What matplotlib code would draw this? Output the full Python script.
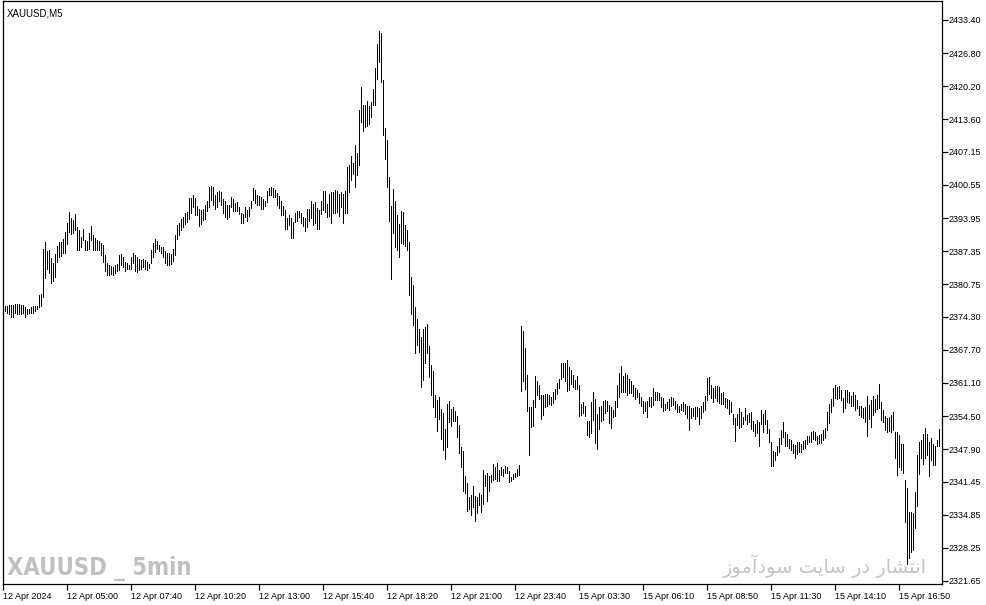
import matplotlib
matplotlib.use('Agg')
import matplotlib.pyplot as plt

# XAUUSD M5 bars, 12 Apr 2024 -> 15 Apr 2024 (high / low of each bar)
bar_high = [
    2376.4, 2376.4, 2376.4, 2376.6, 2376.6, 2376.6, 2376.8, 2376.8, 2376.8, 2376.6,
    2376.6, 2376.2, 2375.8, 2375.8, 2376.2, 2376.4, 2376.4, 2376.4, 2378.6, 2378.8,
    2387.8, 2389.2, 2387.4, 2387.6, 2386.0, 2385.0, 2386.8, 2388.4, 2389.2, 2389.2,
    2389.8, 2391.2, 2393.0, 2395.2, 2394.0, 2393.6, 2394.8, 2392.2, 2391.6, 2390.2,
    2391.8, 2389.6, 2389.4, 2391.0, 2392.4, 2390.6, 2390.0, 2389.6, 2389.4, 2389.0,
    2388.6, 2386.6, 2385.0, 2384.6, 2384.4, 2384.2, 2384.6, 2384.8, 2386.6, 2386.8,
    2386.2, 2385.2, 2385.0, 2384.6, 2386.2, 2387.0, 2386.6, 2386.2, 2385.8, 2385.6,
    2385.8, 2385.6, 2385.2, 2384.8, 2387.6, 2389.0, 2389.8, 2389.4, 2388.6, 2388.2,
    2388.2, 2387.4, 2387.0, 2387.0, 2386.8, 2387.8, 2390.6, 2392.6, 2393.0, 2393.8,
    2394.2, 2395.0, 2395.2, 2398.0, 2398.0, 2398.6, 2398.0, 2396.4, 2395.8, 2395.6,
    2395.8, 2396.6, 2397.4, 2400.2, 2400.4, 2400.2, 2398.6, 2399.2, 2399.4, 2399.2,
    2397.8, 2397.4, 2396.6, 2396.6, 2398.2, 2397.8, 2397.0, 2397.2, 2396.2, 2395.0,
    2394.8, 2396.2, 2395.6, 2396.2, 2397.4, 2400.0, 2399.6, 2398.6, 2398.4, 2398.2,
    2397.8, 2397.4, 2399.4, 2400.0, 2400.2, 2400.0, 2399.6, 2399.0, 2398.4, 2397.4,
    2396.4, 2395.6, 2394.0, 2394.6, 2394.0, 2393.2, 2395.0, 2395.4, 2395.4, 2395.0,
    2394.2, 2394.0, 2395.8, 2395.8, 2397.4, 2396.8, 2397.2, 2396.0, 2395.6, 2397.4,
    2399.4, 2399.4, 2396.8, 2398.8, 2399.2, 2399.2, 2399.6, 2399.4, 2398.8, 2399.2,
    2398.8, 2399.4, 2404.2, 2404.6, 2406.4, 2405.0, 2408.4, 2407.0, 2415.5, 2420.1,
    2416.5, 2416.5, 2417.3, 2416.3, 2417.1, 2419.7, 2423.9, 2428.7, 2431.3, 2430.9,
    2421.5, 2411.9, 2409.5, 2402.2, 2396.4, 2399.8, 2397.4, 2394.6, 2392.8, 2395.4,
    2395.2, 2392.6, 2391.6, 2389.2, 2382.2, 2380.6, 2376.2, 2373.8, 2371.8, 2370.2,
    2371.8, 2372.2, 2372.8, 2368.5, 2364.7, 2363.5, 2358.7, 2357.7, 2358.3, 2355.9,
    2355.1, 2351.9, 2356.9, 2357.5, 2355.9, 2356.3, 2355.5, 2354.5, 2352.7, 2348.3,
    2347.6, 2342.6, 2341.2, 2338.4, 2338.8, 2340.6, 2338.6, 2338.4, 2339.2, 2338.8,
    2343.8, 2342.8, 2343.2, 2342.6, 2342.8, 2345.0, 2344.4, 2345.2, 2343.8, 2344.4,
    2344.0, 2344.6, 2344.4, 2343.6, 2342.4, 2343.0, 2343.2, 2344.0, 2344.8, 2372.4,
    2371.4, 2368.1, 2362.7, 2356.3, 2356.3, 2357.7, 2362.5, 2361.5, 2360.7, 2358.7,
    2358.7, 2358.9, 2358.9, 2358.7, 2358.3, 2359.3, 2359.9, 2361.1, 2361.9, 2365.1,
    2365.1, 2365.1, 2365.7, 2364.3, 2363.7, 2362.7, 2361.7, 2362.5, 2360.7, 2356.9,
    2357.3, 2356.5, 2353.5, 2353.5, 2357.3, 2359.3, 2357.9, 2354.9, 2356.3, 2356.5,
    2357.5, 2357.7, 2357.5, 2356.7, 2356.3, 2355.7, 2357.5, 2360.7, 2363.1, 2364.5,
    2362.5, 2363.1, 2362.7, 2361.9, 2361.5, 2360.7, 2360.1, 2359.7, 2359.1, 2358.3,
    2357.5, 2357.3, 2357.5, 2358.3, 2358.3, 2360.1, 2359.3, 2359.3, 2359.1, 2358.3,
    2358.1, 2356.9, 2357.3, 2357.9, 2358.3, 2358.1, 2357.5, 2356.9, 2356.5, 2356.9,
    2357.3, 2356.9, 2356.5, 2356.5, 2356.1, 2356.1, 2356.3, 2356.3, 2356.1, 2356.5,
    2357.3, 2358.5, 2362.1, 2362.3, 2360.7, 2360.1, 2360.5, 2360.5, 2360.3, 2359.1,
    2359.3, 2358.1, 2357.9, 2357.7, 2357.3, 2354.9, 2354.1, 2354.9, 2356.1, 2355.3,
    2354.3, 2356.1, 2354.7, 2355.1, 2355.3, 2353.5, 2352.9, 2353.7, 2353.3, 2355.7,
    2354.9, 2355.7, 2353.7, 2351.9, 2349.3, 2347.6, 2347.4, 2348.5, 2350.1, 2351.7,
    2353.3, 2351.3, 2350.9, 2349.9, 2349.7, 2348.9, 2348.7, 2349.3, 2349.3, 2348.9,
    2349.5, 2349.7, 2350.5, 2350.5, 2351.3, 2351.5, 2351.3, 2350.5, 2350.7, 2350.9,
    2351.7, 2352.1, 2355.3, 2356.9, 2357.9, 2360.1, 2360.7, 2360.3, 2360.5, 2359.7,
    2358.1, 2359.7, 2359.7, 2359.3, 2358.5, 2359.3, 2358.7, 2357.7, 2356.5, 2356.5,
    2356.1, 2356.3, 2358.5, 2356.7, 2357.7, 2358.5, 2357.9, 2358.7, 2360.9, 2357.3,
    2355.7, 2354.5, 2354.1, 2354.3, 2354.7, 2355.3, 2351.3, 2351.3, 2350.7, 2348.9,
    2348.9, 2341.8, 2340.2, 2335.4, 2335.4, 2335.2, 2339.4, 2346.8, 2349.3, 2349.7,
    2350.9, 2352.1, 2350.9, 2349.3, 2350.1, 2348.9, 2348.5, 2349.7, 2351.9,
]
bar_low = [
    2375.6, 2375.4, 2375.0, 2374.8, 2374.2, 2374.2, 2375.0, 2374.8, 2374.8, 2374.8,
    2375.0, 2374.2, 2374.8, 2375.0, 2375.0, 2375.0, 2375.4, 2375.8, 2376.2, 2376.4,
    2378.2, 2382.0, 2383.8, 2383.0, 2381.0, 2381.4, 2382.2, 2385.2, 2386.2, 2386.4,
    2387.0, 2387.0, 2388.8, 2391.2, 2390.8, 2391.0, 2391.6, 2387.6, 2387.6, 2388.2,
    2389.6, 2387.6, 2387.6, 2387.8, 2389.6, 2387.6, 2387.6, 2387.6, 2387.6, 2386.6,
    2385.2, 2383.4, 2382.6, 2382.6, 2382.8, 2382.6, 2383.0, 2383.4, 2383.6, 2384.6,
    2384.2, 2383.4, 2383.8, 2383.8, 2383.8, 2385.0, 2383.4, 2383.2, 2383.6, 2383.8,
    2384.2, 2383.8, 2383.6, 2384.0, 2385.0, 2386.2, 2387.2, 2387.8, 2387.4, 2387.0,
    2386.2, 2385.0, 2384.6, 2384.6, 2384.8, 2385.4, 2386.6, 2389.8, 2390.6, 2391.6,
    2392.2, 2392.8, 2393.2, 2393.8, 2395.0, 2396.2, 2394.6, 2394.6, 2392.4, 2392.8,
    2393.6, 2393.8, 2395.4, 2396.2, 2397.6, 2396.6, 2395.8, 2396.2, 2397.4, 2396.6,
    2395.0, 2394.2, 2393.8, 2394.2, 2396.2, 2395.4, 2395.4, 2395.4, 2394.8, 2393.0,
    2393.0, 2394.2, 2393.4, 2394.4, 2396.0, 2397.6, 2397.0, 2396.6, 2396.6, 2395.8,
    2395.8, 2396.4, 2397.2, 2398.6, 2398.6, 2398.2, 2398.2, 2396.6, 2396.0, 2394.6,
    2394.6, 2391.8, 2391.8, 2392.6, 2390.0, 2390.0, 2393.2, 2393.4, 2394.2, 2393.0,
    2392.4, 2391.4, 2392.2, 2393.4, 2394.0, 2392.6, 2393.0, 2391.8, 2391.8, 2394.8,
    2395.6, 2395.2, 2394.2, 2394.4, 2393.0, 2395.0, 2395.0, 2395.2, 2394.4, 2396.2,
    2393.0, 2395.0, 2395.0, 2399.2, 2401.6, 2402.8, 2400.2, 2402.6, 2404.6, 2413.1,
    2411.3, 2412.1, 2412.3, 2412.7, 2414.1, 2416.5, 2416.5, 2421.7, 2425.1, 2421.1,
    2410.5, 2405.8, 2400.2, 2393.4, 2381.8, 2391.0, 2388.2, 2387.6, 2386.2, 2389.0,
    2388.8, 2388.4, 2387.6, 2378.6, 2374.8, 2372.6, 2367.1, 2368.6, 2367.2, 2360.3,
    2361.7, 2365.1, 2367.1, 2362.3, 2358.7, 2356.3, 2354.3, 2351.5, 2353.9, 2349.9,
    2347.7, 2346.0, 2348.3, 2353.3, 2352.5, 2353.5, 2353.5, 2350.3, 2347.2, 2344.4,
    2339.6, 2339.2, 2335.6, 2336.0, 2334.8, 2336.4, 2333.6, 2335.2, 2336.8, 2335.4,
    2337.0, 2340.6, 2337.6, 2339.6, 2341.4, 2341.8, 2342.0, 2341.6, 2341.6, 2342.8,
    2342.6, 2343.2, 2343.2, 2341.4, 2341.6, 2342.0, 2342.4, 2342.6, 2342.8, 2359.5,
    2361.5, 2359.9, 2355.5, 2346.8, 2352.3, 2352.5, 2356.3, 2358.7, 2357.9, 2353.9,
    2354.7, 2356.3, 2356.5, 2356.9, 2356.7, 2357.1, 2357.9, 2358.9, 2360.1, 2361.9,
    2362.3, 2361.5, 2359.5, 2359.7, 2360.9, 2360.3, 2359.9, 2359.9, 2354.5, 2354.7,
    2355.1, 2354.5, 2350.7, 2350.3, 2351.1, 2353.7, 2349.1, 2347.9, 2351.9, 2353.5,
    2353.7, 2355.1, 2355.5, 2353.1, 2352.1, 2354.3, 2354.5, 2356.3, 2358.3, 2359.3,
    2359.3, 2359.3, 2358.7, 2359.1, 2359.1, 2358.5, 2357.9, 2358.3, 2357.1, 2356.5,
    2355.1, 2355.5, 2354.3, 2356.5, 2356.3, 2356.7, 2357.7, 2357.7, 2357.7, 2356.3,
    2355.5, 2355.7, 2356.1, 2355.7, 2356.5, 2356.7, 2355.9, 2355.3, 2355.3, 2355.7,
    2355.5, 2354.9, 2354.1, 2351.7, 2354.1, 2354.5, 2353.9, 2354.5, 2352.9, 2354.1,
    2355.3, 2355.7, 2357.7, 2358.9, 2358.1, 2357.3, 2358.1, 2357.5, 2357.1, 2356.9,
    2356.9, 2356.3, 2356.1, 2354.9, 2355.3, 2352.9, 2349.5, 2352.7, 2352.1, 2352.3,
    2352.9, 2353.7, 2352.9, 2353.3, 2351.9, 2351.5, 2350.5, 2351.1, 2348.5, 2352.9,
    2351.3, 2352.9, 2351.1, 2349.3, 2344.6, 2344.6, 2345.8, 2346.7, 2347.4, 2348.9,
    2350.3, 2348.5, 2348.5, 2348.1, 2347.7, 2347.2, 2346.2, 2347.0, 2347.4, 2347.4,
    2347.9, 2348.1, 2348.9, 2349.3, 2349.3, 2349.9, 2349.7, 2348.9, 2349.1, 2349.1,
    2349.7, 2350.1, 2351.7, 2353.1, 2355.3, 2356.5, 2358.1, 2357.9, 2358.1, 2357.7,
    2355.3, 2356.1, 2357.3, 2357.1, 2356.5, 2356.5, 2355.7, 2356.1, 2354.7, 2354.3,
    2354.1, 2353.3, 2350.5, 2353.9, 2352.3, 2354.7, 2355.3, 2355.9, 2356.1, 2353.7,
    2353.3, 2351.7, 2351.3, 2351.5, 2351.3, 2351.7, 2346.2, 2342.8, 2344.4, 2343.8,
    2343.2, 2333.4, 2325.0, 2326.2, 2327.4, 2327.8, 2332.2, 2336.6, 2343.0, 2346.2,
    2345.0, 2346.2, 2346.8, 2342.6, 2345.8, 2344.8, 2344.8, 2348.5, 2348.5,
]

price_ticks = [2433.40, 2426.80, 2420.20, 2413.60, 2407.15, 2400.55, 2393.95,
               2387.35, 2380.75, 2374.30, 2367.70, 2361.10, 2354.50, 2347.90,
               2341.45, 2334.85, 2328.25, 2321.65]
time_labels = ['12 Apr 2024', '12 Apr 05:00', '12 Apr 07:40', '12 Apr 10:20',
               '12 Apr 13:00', '12 Apr 15:40', '12 Apr 18:20', '12 Apr 21:00',
               '12 Apr 23:40', '15 Apr 03:30', '15 Apr 06:10', '15 Apr 08:50',
               '15 Apr 11:30', '15 Apr 14:10', '15 Apr 16:50']
label_every = 32  # one time label every 32 bars

W, H = 987, 605
fig = plt.figure(figsize=(W / 100, H / 100), dpi=100)
fig.patch.set_facecolor('white')
ax = fig.add_axes([3 / W, 1 - 584 / H, 939 / W, 583 / H])

xs = list(range(len(bar_high)))
ax.vlines(xs, bar_low, bar_high, colors='black', linewidth=0.72, antialiased=False)

ax.set_xlim(-0.2, 469.5)
ax.set_ylim(2321.05, 2437.18)

for s in ax.spines.values():
    s.set_linewidth(0.9)
    s.set_color('black')

tick_font = dict(family='Liberation Sans', size=6.5)
ax.yaxis.tick_right()
ax.set_yticks(price_ticks)
ax.set_yticklabels(['%.2f' % p for p in price_ticks], **tick_font)
ax.tick_params(axis='y', direction='out', length=4, width=0.9, pad=1, colors='black')

ax.set_xticks([i * label_every for i in range(len(time_labels))])
ax.set_xticklabels(time_labels, ha='left', **tick_font)
ax.tick_params(axis='x', direction='out', length=4, width=0.9, pad=1.5, colors='black')

ax.text(1.5, 2434.6, 'XAUUSD,M5', family='Liberation Sans', size=7,
        va='center', ha='left', color='black')

# watermarks
ax.text(2, 2324.2, 'XAUUSD _ 5min', family='DejaVu Sans', stretch='condensed',
        weight='bold', size=17, color='#c0c0c0', va='center', ha='left')
# "انتشار در سایت سودآموز" written in its shaped (presentation-form) visual order
fa_text = ('\uFEAF\uFEEE\uFEE3\uFE81\uFEA9\uFEEE\uFEB3 '
           '\uFE96\uFBFE\uFE8E\uFEB3 '
           '\uFEAD\uFEA9 '
           '\uFEAD\uFE8E\uFEB8\uFE98\uFEE7\uFE8D')
ax.text(462, 2324.6, fa_text, family='DejaVu Sans', size=14,
        color='#c4c4c4', va='center', ha='right')

fig.savefig('out.png', dpi=100, facecolor='white')
